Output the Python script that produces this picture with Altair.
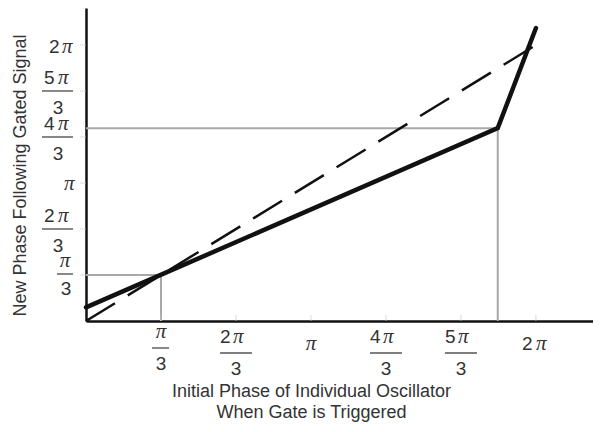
import altair as alt
import numpy as np
import pandas as pd

PI = np.pi

# dashed line: phase unchanged (identity)
identity_x = [0.0, 2 * PI]
identity_y = [0.0, 2 * PI]

# solid line: phase response after gated signal
response_x = [0.0, 5.75, 2 * PI]
response_y = [0.31, 4.39, 6.67]

# gray guide lines drop from these points to both axes
guide_x = [PI / 3, 5.75]
guide_y = [PI / 3, 4.39]

# tick labels: coef * pi / den
tick_values = [PI / 3, 2 * PI / 3, PI, 4 * PI / 3, 5 * PI / 3, 2 * PI]
tick_coef = ["", "2", "", "4", "5", "2"]
tick_den = ["3", "3", "", "3", "3", ""]

x_title = ["Initial Phase of Individual Oscillator", "When Gate is Triggered"]
y_title = "New Phase Following Gated Signal"

X_MAX = 7.08
Y_MAX = 7.125

SANS = "Liberation Sans"
SERIF = "Liberation Serif"
TXT = "#333333"
INK = "#111111"

xs = alt.Scale(domain=[0, X_MAX], nice=False, zero=False)
ys = alt.Scale(domain=[0, Y_MAX], nice=False, zero=False)

AX_X = alt.Axis(
    values=tick_values, labels=False, ticks=False, grid=False,
    domainColor=INK, domainWidth=2.5,
    title=x_title, titleFont=SANS, titleFontSize=18, titleFontWeight="normal",
    titleColor=TXT, titleX=225, titleY=75, titleAlign="center",
    titleBaseline="alphabetic", titleLineHeight=21.5)
AX_Y = alt.Axis(
    values=tick_values, labels=False, ticks=False, grid=False,
    domainColor=INK, domainWidth=2.5,
    title=y_title, titleFont=SANS, titleFontSize=18, titleFontWeight="normal",
    titleColor=TXT, titleX=-61, titleY=167, titleAngle=270, titleAlign="center",
    titleBaseline="alphabetic")

ident = pd.DataFrame({"x": identity_x, "y": identity_y})
resp = pd.DataFrame({"x": response_x, "y": response_y})
guides = pd.DataFrame({"x": guide_x, "y": guide_y, "x0": [0.0] * len(guide_x), "y0": [0.0] * len(guide_y)})
ticks = pd.DataFrame({"v": tick_values, "coef": tick_coef, "den": tick_den})

FRAC_MULT = "datum.coef != '' && datum.den != ''"
FRAC_UNIT = "datum.coef == '' && datum.den != ''"
WHOLE_MULT = "datum.coef != '' && datum.den == ''"
WHOLE_UNIT = "datum.coef == '' && datum.den == ''"


def xf(field="v"):
    return alt.X(f"{field}:Q", scale=xs, axis=AX_X)


def yf(field="v"):
    return alt.Y(f"{field}:Q", scale=ys, axis=AX_Y)


def x0():
    return alt.XDatum(0, type="quantitative", scale=xs, axis=AX_X)


def y0():
    return alt.YDatum(0, type="quantitative", scale=ys, axis=AX_Y)


def label(filt, text, dx, dy, align="center", font=SANS, size=19, style="normal", axis="x"):
    m = alt.Chart(ticks).transform_filter(filt).mark_text(
        font=font, fontSize=size, fontStyle=style, align=align,
        baseline="alphabetic", dx=dx, dy=dy, color=TXT)
    if axis == "x":
        return m.encode(x=xf(), y=y0(), text=text)
    return m.encode(x=x0(), y=yf(), text=text)


def pi_label(filt, dx, dy, align="center", axis="x"):
    return label(filt, alt.value("π"), dx, dy, align=align, font=SERIF, size=21,
                 style="italic", axis=axis)


def bar(filt, off1, off2, off, axis="x"):
    m = alt.Chart(ticks).transform_filter(filt).mark_rule(
        color="#555555", strokeWidth=1.4, xOffset=off1, x2Offset=off2, yOffset=off)
    if axis == "x":
        return m.encode(x=xf(), x2=alt.X2("v:Q"), y=y0())
    return m.encode(x=x0(), x2=alt.X2Datum(0), y=yf())


COEF = alt.Text("coef:N")
DEN = alt.Text("den:N")

# guide lines
g_h = alt.Chart(guides).mark_rule(color="#a8a8a8", strokeWidth=2).encode(
    x=xf("x0"), x2="x:Q", y=yf("y"))
g_v = alt.Chart(guides).mark_rule(color="#a8a8a8", strokeWidth=2).encode(
    x=xf("x"), y=yf("y0"), y2="y:Q")

# dashed identity line
dashed = alt.Chart(ident).mark_line(color=INK, strokeWidth=2.5, strokeDash=[34, 15]).encode(
    x=xf("x"), y=yf("y"))

solid = alt.Chart(resp).mark_line(color=INK, strokeWidth=4.5, strokeCap="round", strokeJoin="miter").encode(
    x=xf("x"), y=yf("y"))

# faint tick marks
xt = alt.Chart(ticks).mark_tick(orient="vertical", size=6, thickness=1, color="#c8c8c8", yOffset=-3).encode(
    x=xf(), y=y0())
yt = alt.Chart(ticks).mark_tick(orient="horizontal", size=6, thickness=1, color="#c8c8c8", xOffset=-3).encode(
    x=x0(), y=yf())

x_labels = [
    # k pi / 3
    label(FRAC_MULT, COEF, -16, 22, align="left"),
    pi_label(FRAC_MULT, -3, 22, align="left"),
    bar(FRAC_MULT, -16, 16, 32),
    label(FRAC_MULT, DEN, 0, 54),
    # pi / 3
    pi_label(FRAC_UNIT, 0, 17),
    bar(FRAC_UNIT, -9, 8, 27),
    label(FRAC_UNIT, DEN, 0, 49),
    # 2 pi
    label(WHOLE_MULT, COEF, -14, 29, align="left"),
    pi_label(WHOLE_MULT, 0, 29, align="left"),
    # pi
    pi_label(WHOLE_UNIT, 0, 29),
]

y_labels = [
    # k pi / 3
    label(FRAC_MULT, COEF, -42, -7, align="left", axis="y"),
    pi_label(FRAC_MULT, -28, -7, align="left", axis="y"),
    bar(FRAC_MULT, -44, -13, 0, axis="y"),
    label(FRAC_MULT, DEN, -28, 23, axis="y"),
    # pi / 3
    pi_label(FRAC_UNIT, -21, -8, axis="y"),
    bar(FRAC_UNIT, -29, -13, -1, axis="y"),
    label(FRAC_UNIT, DEN, -20, 20, axis="y"),
    # 2 pi
    label(WHOLE_MULT, COEF, -37, 8, align="left", axis="y"),
    pi_label(WHOLE_MULT, -24, 8, align="left", axis="y"),
    # pi
    pi_label(WHOLE_UNIT, -22, 7, align="left", axis="y"),
]

chart = alt.layer(g_h, g_v, dashed, solid, xt, yt, *x_labels, *y_labels).properties(
    width=507, height=313,
    autosize=alt.AutoSizeParams(type="none"),
    padding={"left": 78, "top": 0, "right": 0, "bottom": 102},
).configure_view(stroke=None)

chart.save("out.html", embed_options={"renderer": "svg", "actions": False})
